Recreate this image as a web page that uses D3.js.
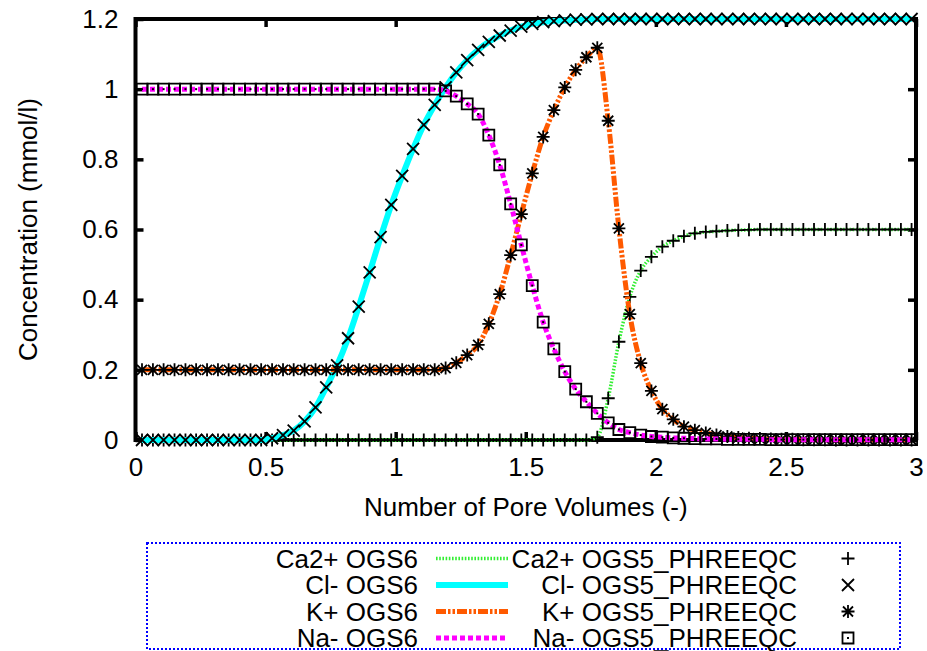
<!DOCTYPE html>
<html>
<head>
<meta charset="utf-8">
<script src="https://cdn.jsdelivr.net/npm/d3@7"></script>
<style>
body { margin: 0; background: #fff; }
svg { display: block; font-family: "Liberation Sans", Arial, Helvetica, sans-serif; }
</style>
</head>
<body>
<svg id="chart" width="927" height="651"></svg>
<script>
// pore volumes of the output points
const poreVolumes = [0.025, 0.067, 0.108, 0.150, 0.192, 0.233, 0.275, 0.317, 0.358, 0.400,
    0.442, 0.483, 0.525, 0.567, 0.608, 0.650, 0.692, 0.733, 0.775, 0.817,
    0.858, 0.900, 0.942, 0.983, 1.025, 1.067, 1.108, 1.150, 1.192, 1.233,
    1.275, 1.317, 1.358, 1.400, 1.442, 1.483, 1.525, 1.567, 1.608, 1.650,
    1.692, 1.733, 1.775, 1.817, 1.858, 1.900, 1.942, 1.983, 2.025, 2.067,
    2.108, 2.150, 2.192, 2.233, 2.275, 2.317, 2.358, 2.400, 2.442, 2.483,
    2.525, 2.567, 2.608, 2.650, 2.692, 2.733, 2.775, 2.817, 2.858, 2.900,
    2.942, 2.983];

const caConc = [0, 0, 0, 0, 0, 0, 0, 0, 0, 0, 0, 0, 0, 0, 0, 0, 0, 0, 0, 0,
    0, 0, 0, 0, 0, 0, 0, 0, 0, 0, 0, 0, 0, 0, 0, 0, 0, 0, 0, 0, 0, 0,
    0.008, 0.119, 0.28, 0.408, 0.483, 0.522, 0.551, 0.568, 0.581, 0.589,
    0.593, 0.595, 0.597, 0.598, 0.599, 0.6, 0.6, 0.6, 0.6, 0.6,
    0.6, 0.6, 0.6, 0.6, 0.6, 0.6, 0.6, 0.6, 0.6, 0.6];

const clConc = [0, 0, 0, 0, 0, 0, 0, 0, 0, 0, 0, 0,
    0.005, 0.014, 0.027, 0.053, 0.093, 0.15, 0.213, 0.29, 0.38, 0.478,
    0.578, 0.67, 0.753, 0.83, 0.898, 0.955, 1.005, 1.048, 1.083, 1.112,
    1.135, 1.153, 1.167, 1.178, 1.186, 1.191, 1.194, 1.196, 1.198, 1.199,
    1.2, 1.2, 1.2, 1.2, 1.2, 1.2, 1.2, 1.2, 1.2, 1.2,
    1.2, 1.2, 1.2, 1.2, 1.2, 1.2, 1.2, 1.2, 1.2, 1.2,
    1.2, 1.2, 1.2, 1.2, 1.2, 1.2, 1.2, 1.2, 1.2, 1.2];

const kConc = [0.2, 0.2, 0.2, 0.2, 0.2, 0.2, 0.2, 0.2, 0.2, 0.2,
    0.2, 0.2, 0.2, 0.2, 0.2, 0.2, 0.2, 0.2, 0.2, 0.2,
    0.2, 0.2, 0.2, 0.2, 0.2, 0.2, 0.2, 0.2,
    0.205, 0.22, 0.242, 0.271, 0.331, 0.416, 0.527, 0.644, 0.76, 0.864,
    0.94, 1.005, 1.055, 1.091, 1.118,
    0.91, 0.603, 0.359, 0.219, 0.14, 0.088, 0.059, 0.038, 0.028, 0.02,
    0.014, 0.01, 0.007, 0.005, 0.004, 0.003, 0.002, 0.002, 0.001, 0.001, 0.001,
    0, 0, 0, 0, 0, 0, 0, 0];

const naConc = [1, 1, 1, 1, 1, 1, 1, 1, 1, 1, 1, 1, 1, 1, 1, 1, 1, 1, 1, 1,
    1, 1, 1, 1, 1, 1, 1, 1,
    0.995, 0.98, 0.958, 0.929, 0.869, 0.784, 0.673, 0.556, 0.44, 0.336,
    0.26, 0.195, 0.145, 0.109, 0.076, 0.049, 0.03, 0.021, 0.014, 0.01,
    0.008, 0.006, 0.005, 0.004, 0.003, 0.003, 0.002, 0.002, 0.002, 0.002,
    0.001, 0.001, 0.001, 0.001, 0.001, 0.001, 0.001, 0.001, 0.001, 0.001,
    0.001, 0.001, 0.001, 0.001];

const ionNames = ["Ca2+", "Cl-", "K+", "Na-"];
const xTicks = [0, 0.5, 1, 1.5, 2, 2.5, 3];
const yTicks = [0, 0.2, 0.4, 0.6, 0.8, 1, 1.2];

const series = [
    { name: ionNames[0], values: caConc, color: "#33ee33", width: 3.5, dash: "1.6,1.6", marker: "plus" },
    { name: ionNames[1], values: clConc, color: "#00ffff", width: 6, dash: null, marker: "cross" },
    { name: ionNames[2], values: kConc, color: "#ff5a00", width: 5, dash: "10,2,2.5,2,2.5,2", marker: "star" },
    { name: ionNames[3], values: naConc, color: "#ff00ff", width: 5, dash: "5,3", marker: "box" }
];

const svg = d3.select("#chart");
const fontSize = 26;

svg.append("rect").attr("width", 927).attr("height", 651).attr("fill", "#fff");

const x = d3.scaleLinear().domain([0, 3]).range([135.5, 916]);
const y = d3.scaleLinear().domain([0, 1.2]).range([440, 19]);

// axes, ticks point inwards
function styleAxis(g) {
    g.select(".domain").remove();
    g.selectAll(".tick line").attr("stroke", "#000").attr("stroke-width", 3.5);
    g.selectAll(".tick text").attr("fill", "#000").style("font-size", fontSize + "px");
}

svg.append("g")
    .attr("transform", "translate(0,440)")
    .call(d3.axisBottom(x).tickValues(xTicks).tickSize(-8).tickPadding(18).tickFormat(d3.format("")))
    .call(styleAxis);

svg.append("g")
    .attr("transform", "translate(0,19)")
    .call(d3.axisTop(x).tickValues(xTicks).tickSize(-8).tickFormat(""))
    .call(styleAxis);

svg.append("g")
    .attr("transform", "translate(135.5,0)")
    .call(d3.axisLeft(y).tickValues(yTicks).tickSize(-8).tickPadding(17).tickFormat(d3.format("")))
    .call(styleAxis);

svg.append("g")
    .attr("transform", "translate(916,0)")
    .call(d3.axisRight(y).tickValues(yTicks).tickSize(-8).tickFormat(""))
    .call(styleAxis);

svg.append("rect")
    .attr("x", x(0)).attr("y", y(1.2))
    .attr("width", x(3) - x(0)).attr("height", y(0) - y(1.2))
    .attr("fill", "none").attr("stroke", "#000").attr("stroke-width", 4);

// axis titles
svg.append("text")
    .attr("x", (x(0) + x(3)) / 2).attr("y", 516)
    .attr("text-anchor", "middle")
    .style("font-size", fontSize + "px")
    .text("Number of Pore Volumes (-)");

svg.append("text")
    .attr("transform", "rotate(-90)")
    .attr("x", -(y(0) + y(1.2)) / 2).attr("y", 37)
    .attr("text-anchor", "middle")
    .style("font-size", fontSize + "px")
    .text("Concentration (mmol/l)");

// marker shapes
const markerPaths = {
    plus: "M-6.5,0H6.5M0,-6.5V6.5",
    cross: "M-6,-6L6,6M-6,6L6,-6",
    star: "M-6.5,0H6.5M0,-6.5V6.5M-5,-5L5,5M-5,5L5,-5",
    box: "M-5.5,-5.5H5.5V5.5H-5.5Z"
};

function drawMarker(g, type, px, py) {
    g.append("path")
        .attr("transform", "translate(" + px + "," + py + ")")
        .attr("d", markerPaths[type])
        .attr("fill", "none")
        .attr("stroke", "#000")
        .attr("stroke-width", 1.8);
    if (type === "box") {
        g.append("rect")
            .attr("x", px - 1).attr("y", py - 1)
            .attr("width", 2).attr("height", 2)
            .attr("fill", "#000");
    }
}

const line = d3.line()
    .x((d, i) => x(poreVolumes[i]))
    .y(d => y(d))
    .curve(d3.curveMonotoneX);

const plot = svg.append("g");

series.forEach(s => {
    // OGS6 line
    plot.append("path")
        .datum(s.values)
        .attr("d", line)
        .attr("fill", "none")
        .attr("stroke", s.color)
        .attr("stroke-width", s.width)
        .attr("stroke-dasharray", s.dash);

    // OGS5_PHREEQC points
    const mg = plot.append("g");
    s.values.forEach((v, i) => drawMarker(mg, s.marker, x(poreVolumes[i]), y(v)));
});

// legend
const legend = svg.append("g");
legend.append("rect")
    .attr("x", 147).attr("y", 543)
    .attr("width", 753).attr("height", 106)
    .attr("fill", "none")
    .attr("stroke", "#0000ff")
    .attr("stroke-width", 2)
    .attr("stroke-dasharray", "2,2");

const rowY = [558.5, 585, 611.5, 638];

series.forEach((s, i) => {
    const ry = rowY[i];
    legend.append("text")
        .attr("x", 418).attr("y", ry).attr("dy", "0.35em")
        .attr("text-anchor", "end")
        .style("font-size", fontSize + "px")
        .text(s.name + " OGS6");

    legend.append("line")
        .attr("x1", 436).attr("x2", 508)
        .attr("y1", ry).attr("y2", ry)
        .attr("stroke", s.color)
        .attr("stroke-width", s.width)
        .attr("stroke-dasharray", s.dash);

    legend.append("text")
        .attr("x", 797).attr("y", ry).attr("dy", "0.35em")
        .attr("text-anchor", "end")
        .style("font-size", fontSize + "px")
        .text(s.name + " OGS5_PHREEQC");

    drawMarker(legend, s.marker, 848, ry);
});
</script>
</body>
</html>
